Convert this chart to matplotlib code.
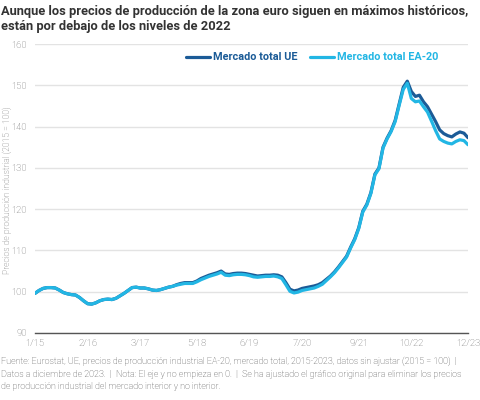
import numpy as np
import matplotlib
matplotlib.use("Agg")
import matplotlib.pyplot as plt

# monthly index, Jan 2015 .. Dec 2023 (2015 = 100)
ue = [
    99.6, 100.3, 100.8, 101.0, 101.0, 100.9, 100.4, 99.8, 99.5, 99.3, 99.2, 98.6,      # 2015
    97.8, 97.1, 97.0, 97.3, 97.8, 98.1, 98.2, 98.1, 98.4, 99.0, 99.6, 100.3,          # 2016
    101.0, 101.1, 100.9, 100.9, 100.7, 100.4, 100.3, 100.5, 100.8, 101.1, 101.3, 101.7,  # 2017
    102.0, 102.2, 102.2, 102.2, 102.6, 103.2, 103.6, 104.0, 104.3, 104.6, 105.0, 104.3,  # 2018
    104.2, 104.4, 104.5, 104.5, 104.4, 104.2, 104.0, 103.8, 103.9, 104.0, 104.0, 104.1,  # 2019
    104.0, 103.6, 102.2, 100.6, 100.2, 100.4, 100.8, 101.0, 101.2, 101.4, 101.7, 102.2,  # 2020
    103.0, 103.8, 104.8, 106.0, 107.3, 108.6, 110.8, 112.8, 115.5, 119.5, 121.2, 124.0,  # 2021
    128.5, 130.0, 135.0, 137.2, 139.0, 141.5, 145.5, 149.5, 151.0, 148.5, 147.3, 147.6,  # 2022
    146.0, 144.8, 143.0, 141.2, 139.2, 138.3, 137.8, 137.5, 138.2, 138.7, 138.4, 137.3,  # 2023
]
ea20 = [
    99.6, 100.3, 100.8, 101.0, 101.0, 100.9, 100.4, 99.8, 99.5, 99.3, 99.2, 98.6,
    97.8, 97.1, 97.0, 97.3, 97.8, 98.1, 98.2, 98.1, 98.4, 99.0, 99.6, 100.3,
    101.0, 101.1, 100.9, 100.9, 100.7, 100.4, 100.3, 100.5, 100.8, 101.1, 101.3, 101.6,
    101.8, 102.0, 102.0, 102.0, 102.4, 102.9, 103.3, 103.7, 104.0, 104.3, 104.7, 104.0,
    103.9, 104.1, 104.2, 104.2, 104.1, 103.9, 103.6, 103.5, 103.6, 103.7, 103.7, 103.8,
    103.6, 103.2, 101.7, 100.1, 99.7, 99.9, 100.3, 100.5, 100.7, 100.9, 101.3, 101.8,
    102.7, 103.6, 104.6, 105.8, 107.1, 108.4, 110.6, 112.6, 115.3, 119.3, 121.0, 123.8,
    128.3, 129.8, 134.8, 137.0, 138.8, 141.2, 145.2, 149.0, 150.5, 146.8, 146.0, 146.2,
    144.8, 143.5, 141.3, 139.0, 137.0, 136.4, 136.0, 135.8, 136.4, 136.8, 136.6, 135.6,
]
tick_pos = [0, 13, 26, 40, 53, 66, 80, 93, 107]
tick_labels = ["1/15", "2/16", "3/17", "5/18", "6/19", "7/20", "9/21", "10/22", "12/23"]
y_ticks = [90, 100, 110, 120, 130, 140, 150, 160]

dark = "#1b5b97"
light = "#22b6e4"
plt.rcParams['font.family'] = ['Roboto', 'DejaVu Sans']

fig = plt.figure(figsize=(4.81, 4.00), dpi=100)
ax = fig.add_axes([35/481, 1 - 333/400, (468 - 35)/481, (333 - 44)/400])

x = np.arange(len(ue))
ax.plot(x, ue, color=dark, lw=2.3, label="Mercado total UE", solid_capstyle='round', zorder=3)
ax.plot(x, ea20, color=light, lw=2.3, label="Mercado total EA-20", solid_capstyle='round', zorder=4)

ax.set_xlim(0, 107)
ax.set_ylim(90, 160)
ax.set_yticks(y_ticks)
ax.set_xticks(tick_pos)
ax.set_xticklabels(tick_labels)
ax.yaxis.grid(True, color="#e3e3e3", lw=1.0)
ax.set_axisbelow(True)
for s in ["top", "right", "left"]:
    ax.spines[s].set_visible(False)
ax.spines["bottom"].set_color("#555555")
ax.spines["bottom"].set_linewidth(1.0)
ax.tick_params(length=0, labelsize=6.8, labelcolor="#666666")
ax.tick_params(axis='y', pad=6)
ax.tick_params(axis='x', pad=4)
for t in ax.get_xticklabels() + ax.get_yticklabels():
    t.set_fontweight('light')

ax.set_ylabel("Precios de producción industrial (2015 = 100)", fontsize=6.2,
              color="#666666", fontweight='light')
ax.yaxis.set_label_coords(-0.052, 0.495)

leg = ax.legend(loc='upper right', bbox_to_anchor=(0.955, 1.005), ncol=2, frameon=False,
                handlelength=2.2, columnspacing=1.2, handletextpad=0.3,
                labelcolor='linecolor', prop={'weight': 'bold', 'size': 7.8})

fig.text(0.003, 0.988, "Aunque los precios de producción de la zona euro siguen en máximos históricos,\n"
         "están por debajo de los niveles de 2022", fontsize=9.3, fontweight='bold',
         color="#333333", va='top', ha='left', linespacing=1.2)

foot = ("Fuente: Eurostat, UE, precios de producción industrial EA-20, mercado total, 2015-2023, datos sin ajustar (2015 = 100)  |\n"
        "Datos a diciembre de 2023.  |  Nota: El eje y no empieza en 0.  |  Se ha ajustado el gráfico original para eliminar los precios\n"
        "de producción industrial del mercado interior y no interior.")
fig.text(0.003, 1 - 357/400, foot, fontsize=6.5, fontweight='light', color="#444444",
         va='top', ha='left', linespacing=1.5)

fig.savefig("out.png", dpi=100)
